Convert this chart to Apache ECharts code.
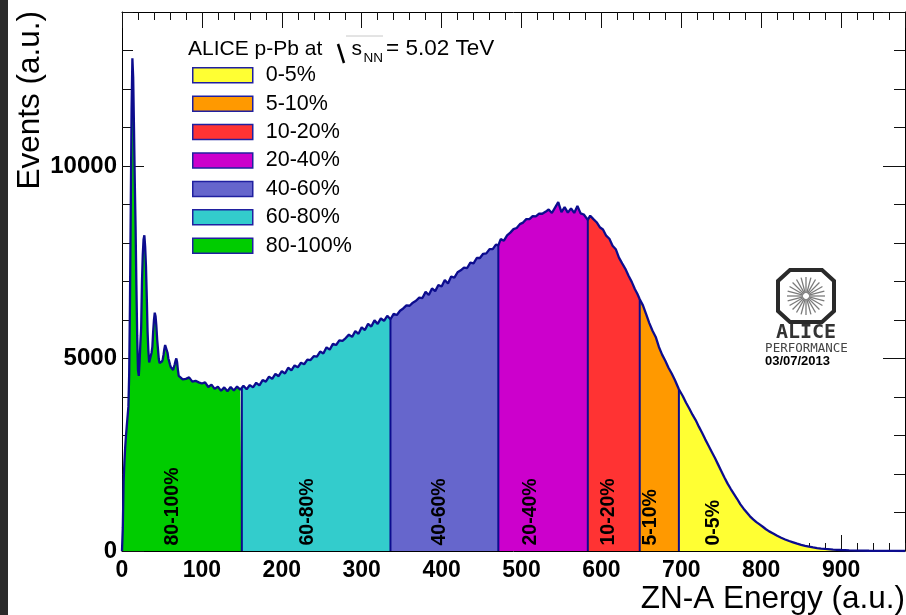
<!DOCTYPE html>
<html><head><meta charset="utf-8">
<script src="https://cdn.jsdelivr.net/npm/echarts@6/dist/echarts.min.js"></script>
<style>html,body{margin:0;padding:0;background:#fff}#c{width:906px;height:615px}</style>
</head><body><div id="c"></div>
<script>
// ---- data ----
const energy = [
 0,1,2,3,4,5,6,7,8,9,10,11,12,13,14,15,16,17,18,19,20,21,22,23,24,25,26,27,28,29,
 30,31,32,33,34,35,36,37,38,39,40,41,42,43,44,45,46,47,48,49,50,51,52,53,54,55,56,57,58,59,
 60,61,62,63,64,65,66,67,68,69,70,71,
 72,76,80,84,88,92,96,100,104,108,112,116,120,124,128,132,136,140,144,148,
 150,152,156,160,164,168,172,176,180,184,188,192,196,200,204,208,212,216,220,224,
 228,232,236,240,244,248,252,256,260,264,268,272,276,280,284,288,292,296,300,304,
 308,312,316,320,324,328,332,336,340,344,348,352,356,360,364,368,372,376,380,384,
 388,392,396,400,404,408,412,416,420,424,428,432,436,440,444,448,452,456,460,464,
 468,471,474,478,482,486,490,494,498,502,506,510,514,518,522,526,530,534,538,542,
 546,550,554,558,562,566,570,574,578,583,586,590,594,598,602,606,610,614,618,622,
 626,630,634,638,642,645,648,652,656,660,664,668,672,676,680,684,688,692,697,702,
 706,710,714,718,722,726,730,734,738,742,746,750,754,758,762,766,770,774,778,782,
 786,790,794,798,802,806,810,815,820,825,830,835,840,845,850,855,860,865,870,875,
 880,890,900,910,920,935,950,965,980
];
const counts = [
 0,600,1800,2300,2700,3000,3250,3500,3750,4600, 6500,9000,11500,12800,12300,11000,9600,8400,6900,5600,
 4700,4550,4900,5400,5800,7000,7700,8100,8200,7900, 7400,6600,5700,5200,4900,4850,4950,5150,5300,5700,
 6000,6190,6100,5850,5500,5250,5000,4880,4850,4900, 4920,4980,5100,5250,5350,5390,5300,5150,5000,4930,
 4850,4780,4760,4800,4700,4750,4850,4940,5000,4900, 4700,4550,
 4520,4460,4470,4510,4400,4420,4380,4350,4380,4260,4320,4210,4270,4160,4250,4150,4260,4170,4270,4190,
 4230,4290,4200,4310,4250,4370,4300,4440,4400,4530,4470,4600,4540,4670,4610,4760,4690,4820,4770,4890,
 4850,4970,4960,5060,5050,5180,5130,5290,5230,5380,5350,5470,5460,5530,5620,5560,5710,5640,5810,5740,
 5900,5830,5990,5900,6040,5980,6110,6020,6160,6130,6240,6300,6380,6370,6450,6500,6580,6570,6730,6650,
 6820,6750,6910,6870,7040,6950,7130,7100,7240,7290,7360,7350,7490,7470,7610,7610,7720,7730,7840,7840,
 7960,7940,8100,8060,8200,8270,8360,8390,8490,8530,8620,8620,8700,8690,8760,8760,8810,8870,8780,8920,
 9060,8800,8930,8790,8900,8780,8960,8770,8740,8600,8710,8620,8540,8410,8350,8190,8110,7930,7840,7620,
 7470,7330,7150,6990,6800,6680,6540,6380,6150,5920,5720,5560,5300,5100,4940,4760,4610,4440,4200,4020,
 3850,3700,3540,3400,3230,3070,2900,2740,2580,2420,2250,2080,1910,1750,1610,1480,1350,1210,1100,1000,
 900,820,750,690,630,565,510,455,395,345,300,260,225,190,160,135,112,93,76,64,
 54,38,26,17,11,6,3,1,0
];
const classNames = ['80-100%','60-80%','40-60%','20-40%','10-20%','5-10%','0-5%'];
const classEdges = [0,150,336,471,583,648,697,980];
const classColors = ['#00cc00','#33cccc','#6666cc','#cc00cc','#ff3333','#ff9900','#ffff33'];
const classLabelX = [63,232,398,511,609,661,741];
const legendOrder = ['0-5%','5-10%','10-20%','20-40%','40-60%','60-80%','80-100%'];
const xRange = [0,980], yRange = [0,14000];
const xMajor = 100, xMinor = 20, yMajor = 5000, yMinor = 1000;

// ---- chart ----
const FONT = "'Liberation Sans', Arial, Helvetica, sans-serif";
const NAVY = '#0c0c8e';
const chart = echarts.init(document.getElementById('c'));
const pts = energy.map((e,i)=>[e,counts[i]]);
const countAt = x => counts[energy.indexOf(x)];

const segSeries = classNames.map((n,k)=>({
  name:n, type:'line', xAxisIndex:0, yAxisIndex:0,
  data: pts.filter(p=>p[0]>=classEdges[k] && p[0]<=classEdges[k+1]),
  symbol:'none', color:classColors[k], itemStyle:{color:classColors[k]},
  lineStyle:{width:0}, areaStyle:{color:classColors[k], opacity:1, origin:'start'},
  silent:true, z:2
}));
const edgeSeries = classEdges.slice(1,-1).map(b=>({
  type:'line', xAxisIndex:0, yAxisIndex:0, symbol:'none', silent:true, z:3,
  data:[[b,0],[b,countAt(b)]], lineStyle:{color:NAVY,width:2}
}));
const outline = {type:'line', name:'outline', xAxisIndex:0, yAxisIndex:0, symbol:'none', silent:true, z:4,
  data:pts, lineStyle:{color:NAVY,width:2.3}};

const tickCol = '#111';
function xAx(pos, interval, len, line, labels){
  return {type:'value', position:pos, min:xRange[0], max:xRange[1], interval,
    axisLine:{show:line, onZero:false, lineStyle:{color:'#000',width:1}},
    axisTick:{show:true, inside:true, length:len, lineStyle:{color:tickCol,width:1}},
    axisLabel:{show:labels, showMaxLabel:false, margin:8, color:'#000', fontFamily:FONT, fontWeight:'bold', fontSize:23,
      formatter:v=>String(v)},
    splitLine:{show:false}};
}
function yAx(pos, interval, len, line, labels){
  return {type:'value', position:pos, min:yRange[0], max:yRange[1], interval,
    axisLine:{show:line, onZero:false, lineStyle:{color:'#000',width:1}},
    axisTick:{show:true, inside:true, length:len, lineStyle:{color:tickCol,width:1}},
    axisLabel:{show:labels, showMaxLabel:false, margin:5, color:'#000', fontFamily:FONT, fontWeight:'bold', fontSize:24,
      formatter:v=>String(v)},
    splitLine:{show:false}};
}

// ALICE logo decoration
const logo = [];
const cx=806, cy=296, a=28, b=26, c1=12, c2=11;
logo.push({type:'polygon', id:'oct', shape:{points:[[cx-a+c1,cy-b],[cx+a-c1,cy-b],[cx+a,cy-b+c2],[cx+a,cy+b-c2],[cx+a-c1,cy+b],[cx-a+c1,cy+b],[cx-a,cy+b-c2],[cx-a,cy-b+c2]]},
  style:{fill:'none', stroke:'#2a2a2a', lineWidth:4}});
for(let k=0;k<24;k++){
  const t=k*Math.PI/12;
  logo.push({type:'line', id:'ray'+k, shape:{x1:cx+3*Math.cos(t), y1:cy+3*Math.sin(t), x2:cx+19*Math.cos(t), y2:cy+19*Math.sin(t)},
    style:{stroke:'#7a7a7a', lineWidth:1.3}});
}
function txt(id,x,y,text,font,fill,align,valign,rot){
  return {type:'text', id, x, y, z:100, rotation:rot||0, style:{text, font, fill:fill||'#000', align, verticalAlign:valign, textAlign:align, textVerticalAlign:valign}};
}
logo.push(txt('alice',806,333,'ALICE',"bold 20px 'DejaVu Sans Mono', monospace",'#333','center','middle'));
logo.push(txt('perf',806.5,348.5,'PERFORMANCE',"12.5px 'DejaVu Sans Mono', monospace",'#444','center','middle'));
logo.push(txt('date',797.5,361.5,'03/07/2013',`bold 13px ${FONT}`,'#000','center','middle'));

const graphics = [
  {type:'rect', id:'strip', shape:{x:0,y:0,width:8,height:615}, style:{fill:'#2b2b2b'}},
  txt('ytitle',30,11,'Events (a.u.)',`31.5px ${FONT}`,'#000','right','middle',Math.PI/2),
  txt('xtitle',905,599,'ZN-A Energy (a.u.)',`31.5px ${FONT}`,'#000','right','middle'),
  txt('lt1',188,49,'ALICE p-Pb at',`21px ${FONT}`,'#000','left','middle'),
  {type:'line', id:'sqrt1', shape:{x1:338,y1:44,x2:344,y2:63}, style:{stroke:'#000',lineWidth:2.5}},
  {type:'line', id:'sqrt2', shape:{x1:346,y1:36,x2:383,y2:36}, style:{stroke:'#c8c8c8',lineWidth:1}},
  txt('lt2',351.5,49,'s',`21px ${FONT}`,'#000','left','middle'),
  txt('lt3',363.5,58.5,'NN',`13.5px ${FONT}`,'#000','left','middle'),
  txt('lt4',386,49,'= 5.02 TeV',`22.5px ${FONT}`,'#000','left','middle'),
  ...logo
];

chart.setOption({
  animation:false,
  grid:{left:122, top:12, right:1, bottom:64, containLabel:false},
  xAxis:[xAx('bottom',xMajor,16,true,true), xAx('bottom',xMinor,8,false,false), xAx('top',xMajor,16,true,false), xAx('top',xMinor,8,false,false)],
  yAxis:[yAx('left',yMajor,22,true,true), yAx('left',yMinor,11,false,false), yAx('right',yMajor,22,true,false), yAx('right',yMinor,11,false,false)],
  legend:{data:legendOrder, orient:'vertical', left:192, top:64.3, padding:0, itemWidth:60, itemHeight:15, itemGap:6.4,
    icon:'rect', selectedMode:false, itemStyle:{borderColor:'#2020a0', borderWidth:1.5},
    textStyle:{fontSize:21.5, fontFamily:FONT, color:'#000', lineHeight:15, padding:[0,0,0,8]}},
  series:[...segSeries, ...edgeSeries, outline],
  graphic: graphics
});

// rotated class labels, placed through the axis scales
const labelEls = classNames.map((n,k)=>{
  const p = chart.convertToPixel({gridIndex:0}, [classLabelX[k], 0]);
  return txt('cl'+k, p[0], p[1]-5.5, n, `bold 19.5px ${FONT}`, '#000', 'left', 'middle', Math.PI/2);
});
chart.setOption({graphic: labelEls});
</script></body></html>
